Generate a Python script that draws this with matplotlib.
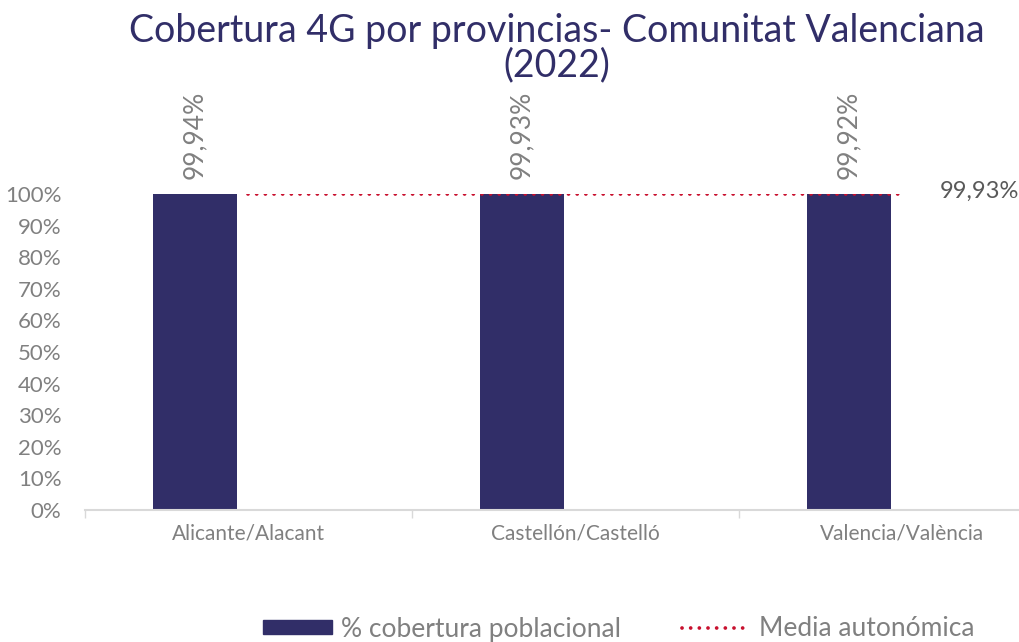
import matplotlib
matplotlib.use("Agg")
import matplotlib.pyplot as plt
from matplotlib.lines import Line2D
from matplotlib.patches import Patch

categories = ["Alicante/Alacant", "Castellón/Castelló", "Valencia/València"]
coverage = [99.94, 99.93, 99.92]
mean_value = 99.93
bar_labels = ["99,94%", "99,93%", "99,92%"]
mean_label = "99,93%"
yticks = [0, 10, 20, 30, 40, 50, 60, 70, 80, 90, 100]
title = "Cobertura 4G por provincias- Comunitat Valenciana\n(2022)"

FONT = ["Lato", "DejaVu Sans"]
plt.rcParams['font.family'] = FONT

W, H = 1020, 642
fig = plt.figure(figsize=(W / 100, H / 100), dpi=100)
ax_l, ax_r, ax_b, ax_t = 85, 1020, 510, 194
ax = fig.add_axes([ax_l / W, 1 - ax_b / H, (ax_r - ax_l) / W, (ax_b - ax_t) / H])

navy = "#312E68"
red = "#C8102E"
gray = "#808080"
dotted = (0, (0.01, 2.3))

xs = list(range(len(categories)))
offset = 0.164
ax.bar(xs, coverage, width=0.257, color=navy, zorder=2)
ax.plot([x + offset for x in xs], [mean_value] * len(xs), color=red, linestyle=dotted,
        linewidth=2.7, zorder=3, dash_capstyle='round', solid_capstyle='round')

ax.set_yticks(yticks)
ax.set_yticklabels([f"{v}%" for v in yticks], fontsize=16, color=gray)
ax.tick_params(axis='y', length=0, pad=17)

ax.set_xticks([x + offset for x in xs])
ax.set_xticklabels(categories, fontsize=15, color=gray)
ax.tick_params(axis='x', length=0, pad=10)
ax.set_xticks([-0.336 + i for i in range(3)], minor=True)
ax.tick_params(axis='x', which='minor', length=6, color="#D9D9D9", width=1)

ax.set_ylim(0, 100)
ax.set_xlim(-0.336, -0.336 + (ax_r - ax_l) / 327.0)

for s in ["top", "right", "left"]:
    ax.spines[s].set_visible(False)
ax.spines["bottom"].set_color("#D9D9D9")
ax.spines["bottom"].set_linewidth(1.5)

for x, v, lab in zip(xs, coverage, bar_labels):
    ax.annotate(lab, (x, v), xytext=(0, 11), textcoords="offset points", rotation=90,
                ha="center", va="bottom", fontsize=19, color=gray,
                annotation_clip=False)

ax.annotate(mean_label, (2 + offset, mean_value), xytext=(27, 2), textcoords="offset points",
            ha="left", va="center", fontsize=17, color="#595959",
            annotation_clip=False)

fig.text(557 / W, 1 - 48 / H, title, ha="center", va="center", fontsize=27,
         color=navy, linespacing=0.95)

handles = [Patch(facecolor=navy, edgecolor=navy),
           Line2D([0], [0], color=red, linestyle=dotted, linewidth=2.7,
                  dash_capstyle='round', solid_capstyle='round')]
leg = fig.legend(handles, ["% cobertura poblacional", "Media autonómica"], loc="center",
                 bbox_to_anchor=(619 / W, 1 - 629 / H), ncol=2, frameon=False,
                 prop={"family": FONT, "size": 19},
                 handlelength=2.6, handleheight=0.45, columnspacing=2.3, handletextpad=0.35)
for t in leg.get_texts():
    t.set_color(gray)

fig.savefig("out.png", dpi=100)
